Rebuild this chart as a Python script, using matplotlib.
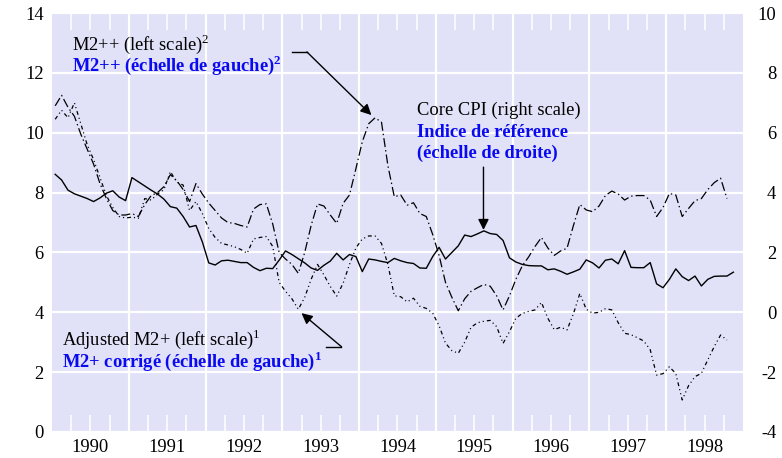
import numpy as np
import matplotlib
matplotlib.use("Agg")
import matplotlib.pyplot as plt
from matplotlib.ticker import FixedLocator, FuncFormatter

plt.rcParams['font.family'] = ['Liberation Serif', 'DejaVu Serif']
plt.rcParams['mathtext.fontset'] = 'custom'
plt.rcParams['mathtext.rm'] = 'Liberation Serif'
plt.rcParams['mathtext.bf'] = 'Liberation Serif:bold'
plt.rcParams['lines.scale_dashes'] = False
plt.rcParams['axes.unicode_minus'] = False

# monthly 12-month growth rates, starting January 1990
m2pp = [10.90, 11.25, 10.85, 10.55, 9.95, 9.45, 8.95, 8.30, 7.80, 7.40, 7.25, 7.25,
        7.30, 7.20, 7.60, 7.90, 8.00, 8.20, 8.60, 8.40, 8.10, 7.70, 8.30, 7.95,
        7.65, 7.40, 7.15, 7.00, 6.97, 6.90, 6.85, 7.45, 7.60, 7.62, 6.95, 6.00,
        5.78, 5.60, 5.30, 6.00, 6.90, 7.62, 7.55, 7.25, 6.97, 7.64, 7.92, 8.80,
        9.70, 10.30, 10.50, 10.35, 8.90, 7.86, 7.92, 7.58, 7.66, 7.30, 7.20, 6.60,
        5.90, 5.00, 4.50, 4.05, 4.45, 4.70, 4.82, 4.93, 4.87, 4.55, 4.08, 4.55,
        5.10, 5.55, 5.85, 6.20, 6.50, 6.15, 5.90, 6.05, 6.14, 6.90, 7.60, 7.42,
        7.36, 7.55, 7.90, 8.05, 7.95, 7.75, 7.88, 7.90, 7.90, 7.75, 7.20, 7.50,
        7.97, 7.92, 7.20, 7.47, 7.73, 7.80, 8.10, 8.33, 8.48, 7.80]

adj_m2p = [10.45, 10.75, 10.50, 11.00, 10.30, 9.60, 9.10, 8.50, 7.90, 7.50, 7.20, 7.15,
           7.18, 7.14, 7.80, 7.75, 7.95, 8.10, 8.70, 8.35, 8.25, 7.40, 7.70, 7.30,
           6.80, 6.50, 6.30, 6.25, 6.19, 6.10, 5.97, 6.45, 6.50, 6.53, 6.20, 5.00,
           4.70, 4.45, 4.10, 4.50, 5.10, 5.60, 5.25, 4.86, 4.54, 4.97, 5.60, 6.15,
           6.45, 6.55, 6.55, 6.30, 5.60, 4.55, 4.52, 4.35, 4.47, 4.20, 4.13, 3.97,
           3.55, 2.97, 2.72, 2.63, 3.00, 3.50, 3.65, 3.70, 3.73, 3.52, 2.96, 3.35,
           3.80, 3.96, 4.03, 4.08, 4.33, 3.80, 3.42, 3.50, 3.41, 3.95, 4.63, 4.10,
           3.97, 4.00, 4.12, 4.08, 3.65, 3.30, 3.25, 3.15, 3.04, 2.75, 1.90, 1.95,
           2.18, 1.95, 1.07, 1.55, 1.85, 1.96, 2.41, 2.85, 3.24, 3.07]

core_cpi = [4.61, 4.42, 4.08, 3.96, 3.88, 3.80, 3.70, 3.82, 3.98, 4.06, 3.85, 3.73,
            4.50, 4.36, 4.22, 4.08, 3.95, 3.78, 3.53, 3.48, 3.20, 2.85, 2.90, 2.35,
            1.65, 1.58, 1.72, 1.74, 1.70, 1.66, 1.66, 1.50, 1.39, 1.47, 1.46, 1.74,
            2.05, 1.93, 1.79, 1.65, 1.48, 1.40, 1.57, 1.71, 1.97, 1.75, 1.93, 1.86,
            1.36, 1.78, 1.75, 1.70, 1.66, 1.80, 1.72, 1.66, 1.63, 1.48, 1.47, 1.86,
            2.17, 1.78, 2.00, 2.22, 2.58, 2.53, 2.62, 2.72, 2.63, 2.60, 2.40, 1.82,
            1.68, 1.60, 1.56, 1.55, 1.55, 1.42, 1.45, 1.37, 1.27, 1.35, 1.44, 1.75,
            1.65, 1.48, 1.74, 1.78, 1.62, 2.06, 1.50, 1.49, 1.49, 1.66, 0.95, 0.82,
            1.10, 1.45, 1.19, 1.06, 1.21, 0.88, 1.10, 1.20, 1.21, 1.21, 1.34]

years = list(range(1990, 1999))


def month_axis(vals):
    return 1990 + (np.arange(len(vals)) + 0.5) / 12.0


bg = '#E1E1F8'
fs = 13.3

fig = plt.figure(figsize=(7.82, 4.58), dpi=100)
ax = fig.add_axes([0.0665, 0.0568, 0.8836, 0.9148])
ax.set_facecolor(bg)
for s in ax.spines.values():
    s.set_visible(False)

ax.set_xlim(1990, 1999)
ax.set_ylim(0, 14)
ax.set_yticks(range(0, 15, 2))
ax.tick_params(axis='y', length=0, pad=6, labelsize=fs)

# year boundaries as grid, quarters as white inner ticks, year labels at mid-year
ax.xaxis.set_major_locator(FixedLocator(years[1:]))
ax.xaxis.set_major_formatter(FuncFormatter(lambda v, p: ''))
quarters = [y + q for y in years for q in (0.25, 0.5, 0.75)]
ax.xaxis.set_minor_locator(FixedLocator(quarters))
ax.xaxis.set_minor_formatter(FuncFormatter(
    lambda v, p: str(int(v)) if abs(v % 1 - 0.5) < 1e-6 else ''))
ax.tick_params(axis='x', which='major', length=0)
ax.tick_params(axis='x', which='minor', direction='in', length=12, width=1.2,
               color='white', top=True, bottom=True, labelsize=fs, pad=5)
ax.grid(True, which='major', color='white', linewidth=1.6)
ax.set_axisbelow(True)

ax.plot(month_axis(m2pp), m2pp, color='black', lw=0.9,
        dashes=(6.5, 2.2, 1.0, 2.2), zorder=3)
ax.plot(month_axis(adj_m2p), adj_m2p, color='black', lw=0.9,
        dashes=(2.8, 2.2, 0.8, 2.2, 0.8, 2.2), zorder=3)

ax2 = ax.twinx()
for s in ax2.spines.values():
    s.set_visible(False)
ax2.set_ylim(-4, 10)
ax2.set_yticks(range(-4, 11, 2))
ax2.tick_params(axis='y', length=0, pad=24, labelsize=fs)
for lab in ax2.get_yticklabels():
    lab.set_horizontalalignment('right')
ax2.plot(month_axis(core_cpi), core_cpi, color='black', lw=1.0, zorder=3)

blue = '#0A0AF0'
# annotations
ax.text(1990.26, 12.76, 'M2++ (left scale)$^{2}$', fontsize=fs, color='black')
ax.text(1990.26, 12.06, r'M2++ (échelle de gauche)$^{\mathbf{2}}$', fontsize=fs,
        color=blue, fontweight='bold')
ax.plot([1993.12, 1993.32], [12.70, 12.70], color='black', lw=1.0)
ax.annotate('', xy=(1994.16, 10.59), xytext=(1993.32, 12.70),
            arrowprops=dict(arrowstyle='-|>', color='black', lw=1.0,
                            mutation_scale=16, shrinkA=0, shrinkB=0))

ax.text(1994.76, 10.59, 'Core CPI (right scale)', fontsize=fs, color='black')
ax.text(1994.76, 9.86, 'Indice de référence', fontsize=fs, color=blue,
        fontweight='bold')
ax.text(1994.76, 9.15, '(échelle de droite)', fontsize=fs, color=blue,
        fontweight='bold')
ax.annotate('', xy=(1995.62, 6.75), xytext=(1995.62, 8.85),
            arrowprops=dict(arrowstyle='-|>', color='black', lw=1.0,
                            mutation_scale=16, shrinkA=0, shrinkB=0))

ax.text(1990.13, 2.91, 'Adjusted M2+ (left scale)$^{1}$', fontsize=fs, color='black')
ax.text(1990.13, 2.17, r'M2+ corrigé (échelle de gauche)$^{\mathbf{1}}$', fontsize=fs,
        color=blue, fontweight='bold')
ax.plot([1993.57, 1993.77], [2.85, 2.85], color='black', lw=1.0)
ax.annotate('', xy=(1993.25, 3.97), xytext=(1993.77, 2.85),
            arrowprops=dict(arrowstyle='-|>', color='black', lw=1.0,
                            mutation_scale=16, shrinkA=0, shrinkB=0))

fig.savefig('out.png', dpi=100, facecolor='white')
